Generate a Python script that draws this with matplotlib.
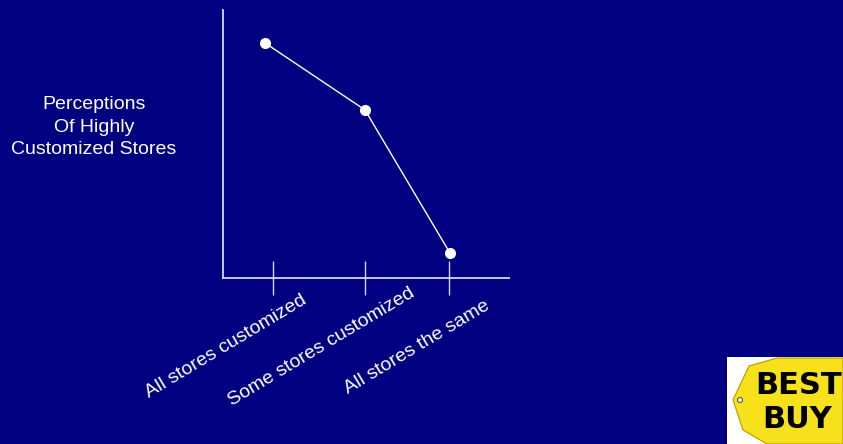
import matplotlib
matplotlib.use("Agg")
import matplotlib.pyplot as plt
from matplotlib.patches import Polygon, Circle
from matplotlib.transforms import blended_transform_factory

plt.rcParams["font.family"] = ["Liberation Sans", "DejaVu Sans"]

# data
categories = ["All stores customized", "Some stores customized", "All stores the same"]
point_x = [0.42, 1.42, 2.27]
perception = [8.77, 6.27, 0.93]
tick_x = [0.50, 1.42, 2.26]
label_x = [0.03, 0.99, 1.94]
ylabel_text = "Perceptions\nOf Highly\nCustomized Stores"

navy = "#000080"
axis_col = "#d8d8ec"

fig = plt.figure(figsize=(8.43, 4.44), dpi=100, facecolor=navy)
W, H = 843, 444
# axes spanning pixels x 223..509, y 10..278
ax = fig.add_axes([223 / W, 1 - 278 / H, (509 - 223) / W, (278 - 10) / H])
ax.set_facecolor(navy)
ax.set_xlim(0, 2.86)
ax.set_ylim(0, 10)

for side in ["top", "right"]:
    ax.spines[side].set_visible(False)
for side in ["left", "bottom"]:
    ax.spines[side].set_color(axis_col)
    ax.spines[side].set_linewidth(1.3)

ax.plot(point_x, perception, color="white", lw=1, marker="o", ms=7,
        mec="white", mfc="white", zorder=3, clip_on=False)

ax.set_xticks(tick_x)
ax.set_xticklabels([])
ax.set_yticks([])
ax.tick_params(axis="x", direction="inout", length=24, width=1, color=axis_col)

trans = blended_transform_factory(ax.transData, ax.transAxes)
for lx, lab in zip(label_x, categories):
    ax.annotate(lab, xy=(lx, 0), xycoords=trans, xytext=(0, -69),
                textcoords="offset pixels", rotation=31, rotation_mode="anchor",
                ha="center", va="center", color="white", fontsize=14)

fig.text(94 / W, 1 - 127 / H, ylabel_text, color="white", fontsize=14,
         ha="center", va="center", linespacing=1.4)

# logo
lax = fig.add_axes([727 / W, 0, (843 - 727) / W, (444 - 357) / H])
lax.set_xlim(0, 116)
lax.set_ylim(0, 87)
lax.set_facecolor("white")
lax.set_xticks([])
lax.set_yticks([])
for s in lax.spines.values():
    s.set_visible(False)
tag = Polygon([(6, 44), (22, 78), (50, 86), (116, 86), (116, 0), (40, 0), (16, 14)],
              closed=True, fc="#f7e11a", ec="#b89a00", lw=0.8)
lax.add_patch(tag)
lax.add_patch(Circle((13, 44), 2.5, fc="white", ec="#555555", lw=0.8))
lax.text(72, 59, "BEST", fontsize=22, fontweight="heavy", ha="center", va="center",
         color="black", family="DejaVu Sans")
lax.text(70, 25, "BUY", fontsize=22, fontweight="heavy", ha="center", va="center",
         color="black", family="DejaVu Sans")

fig.savefig("out.png", dpi=100, facecolor=navy)
